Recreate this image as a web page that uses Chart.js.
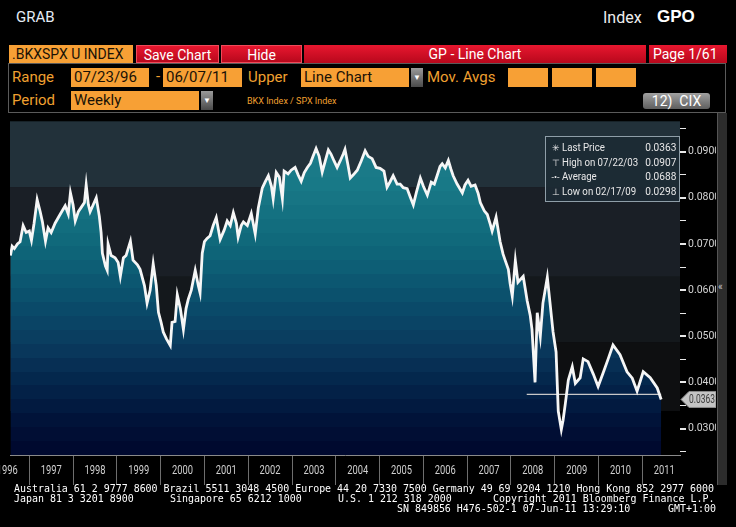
<!DOCTYPE html>
<html>
<head>
<meta charset="utf-8">
<script src="https://cdn.jsdelivr.net/npm/chart.js@4.4.1/dist/chart.umd.min.js"></script>
<style>
  html, body { margin: 0; padding: 0; background: #000; }
  body { width: 736px; height: 527px; position: relative; overflow: hidden;
         font-family: Roboto, "Liberation Sans", sans-serif; }
  .abs { position: absolute; white-space: pre; }
  .red { position: absolute; top: 45px; height: 18px; color: #fff; font-size: 14px; line-height: 18px;
         background: linear-gradient(#e8172f, #b8081c); box-sizing: border-box; }
  .org { position: absolute; background: #f7a035; color: #1a1206; font-size: 15px; line-height: 19px;
         height: 19px; padding-left: 3px; box-sizing: border-box; }
  .lbl { position: absolute; color: #f0a030; font-size: 15px; line-height: 19px; }
  .drop { position: absolute; width: 12px; height: 19px; background: linear-gradient(#9a9a9a, #4a4a4a);
          color: #fff; font-size: 8px; text-align: center; line-height: 19px; }
  .foot { position: absolute; color: #fff; font-family: "DejaVu Sans Mono", monospace; font-size: 9.95px;
          line-height: 10px; white-space: pre; }
  #legend { position: absolute; left: 545px; top: 136px; width: 135px; height: 66px; box-sizing: border-box;
            border: 1px solid #8f9ea8; background: rgba(28, 42, 52, 0.92); color: #e8e8e8; font-size: 11.5px; }
  #legend div { position: absolute; left: 3px; right: 3px; height: 14px; line-height: 14px; white-space: pre; }
  #legend span.t { display: inline-block; transform: scaleX(0.84); transform-origin: 0 50%; }
  #legend span.v { position: absolute; right: 0; transform: scaleX(0.88); transform-origin: 100% 50%; }
</style>
</head>
<body>
<div class="abs" style="left:16px;top:8px;color:#e4ecf6;font-size:15px;">GRAB</div>
<div class="abs" style="left:603px;top:8px;color:#eee;font-size:16px;">Index</div>
<div class="abs" style="left:657px;top:7px;color:#fff;font-size:17px;font-weight:bold;font-family:'Liberation Sans',Arial,sans-serif;">GPO</div>

<div class="org" style="left:9px;top:45px;width:124px;height:18px;line-height:18px;font-size:14px;">.BKXSPX U INDEX</div>
<div class="red" style="left:136px;width:83px;text-align:center;border:1px solid #f04a5a;">Save Chart</div>
<div class="red" style="left:221px;width:81px;text-align:center;border:1px solid #f04a5a;">Hide</div>
<div class="red" style="left:304px;width:342px;text-align:center;">GP - Line Chart</div>
<div class="red" style="left:649px;width:78px;padding-left:4px;">Page 1/61</div>

<div class="abs" style="left:8px;top:63px;width:718px;height:50px;border:1px solid #5a5a5a;box-sizing:border-box;"></div>
<div class="lbl" style="left:12px;top:68px;">Range</div>
<div class="org" style="left:71px;top:68px;width:78px;">07/23/96</div>
<div class="lbl" style="left:156px;top:67px;">-</div>
<div class="org" style="left:163px;top:68px;width:79px;">06/07/11</div>
<div class="lbl" style="left:248px;top:68px;">Upper</div>
<div class="org" style="left:301px;top:68px;width:108px;">Line Chart</div>
<div class="drop" style="left:411px;top:68px;">&#9660;</div>
<div class="lbl" style="left:427px;top:68px;">Mov. Avgs</div>
<div class="org" style="left:508px;top:68px;width:40px;"></div>
<div class="org" style="left:552px;top:68px;width:40px;"></div>
<div class="org" style="left:596px;top:68px;width:40px;"></div>

<div class="lbl" style="left:12px;top:91px;">Period</div>
<div class="org" style="left:71px;top:91px;width:128px;">Weekly</div>
<div class="drop" style="left:201px;top:91px;">&#9660;</div>
<div class="abs" style="left:247px;top:96px;color:#f0a030;font-size:9px;">BKX Index / SPX Index</div>
<div class="abs" style="left:643px;top:93px;width:67px;height:16px;border-radius:3px;background:linear-gradient(#a0a0a0,#5e5e5e);color:#fff;font-size:14px;line-height:16px;text-align:center;">12)&nbsp; CIX</div>

<canvas id="gp" class="abs" width="716" height="375" style="left:0;top:113px;"></canvas>
<div class="abs" style="left:717px;top:113px;width:10px;height:372px;background:#2c2c2c;border-left:1px solid #555;box-sizing:border-box;"></div>
<div class="abs" style="left:718px;top:281px;color:#ccc;font-size:10px;">&laquo;</div>

<div id="legend"></div>

<div class="foot" style="left:14px;top:484px;">Australia 61 2 9777 8600 Brazil 5511 3048 4500 Europe 44 20 7330 7500 Germany 49 69 9204 1210 Hong Kong 852 2977 6000</div>
<div class="foot" style="left:14px;top:494px;">Japan 81 3 3201 8900</div>
<div class="foot" style="left:170px;top:494px;">Singapore 65 6212 1000</div>
<div class="foot" style="left:338px;top:494px;">U.S. 1 212 318 2000</div>
<div class="foot" style="left:493px;top:494px;">Copyright 2011 Bloomberg Finance L.P.</div>
<div class="foot" style="left:397px;top:504px;">SN 849856 H476-502-1 07-Jun-11 13:29:10</div>
<div class="foot" style="left:668px;top:504px;">GMT+1:00</div>

<script>
// weekly closes (decimal years)
const weeks = [
  1996.57, 1996.61, 1996.66, 1996.73, 1996.79, 1996.86, 1996.93, 1997.00, 1997.05, 1997.11,
  1997.18, 1997.25, 1997.30, 1997.37, 1997.43, 1997.50, 1997.59, 1997.71, 1997.82, 1997.89,
  1997.94, 1998.00, 1998.05, 1998.12, 1998.19, 1998.26, 1998.30, 1998.35, 1998.39, 1998.46,
  1998.53, 1998.60, 1998.64, 1998.67, 1998.74, 1998.78, 1998.80, 1998.87, 1998.96, 1999.03,
  1999.08, 1999.15, 1999.21, 1999.31, 1999.37, 1999.47, 1999.53, 1999.63, 1999.69, 1999.76,
  1999.83, 1999.90, 1999.95, 2000.01, 2000.06, 2000.13, 2000.22, 2000.26, 2000.33, 2000.38,
  2000.45, 2000.52, 2000.58, 2000.63, 2000.70, 2000.79, 2000.86, 2000.90, 2000.95, 2001.00,
  2001.06, 2001.13, 2001.20, 2001.27, 2001.36, 2001.45, 2001.52, 2001.59, 2001.66, 2001.73,
  2001.77, 2001.84, 2001.89, 2001.98, 2002.07, 2002.16, 2002.23, 2002.32, 2002.39, 2002.46,
  2002.53, 2002.57, 2002.64, 2002.71, 2002.78, 2002.82, 2002.91, 2002.98, 2003.07, 2003.14,
  2003.21, 2003.28, 2003.35, 2003.42, 2003.48, 2003.55, 2003.62, 2003.69, 2003.76, 2003.83,
  2003.89, 2003.96, 2004.03, 2004.10, 2004.17, 2004.21, 2004.28, 2004.33, 2004.40, 2004.49,
  2004.58, 2004.67, 2004.74, 2004.83, 2004.92, 2005.01, 2005.10, 2005.17, 2005.24, 2005.31,
  2005.40, 2005.47, 2005.54, 2005.63, 2005.70, 2005.77, 2005.84, 2005.93, 2006.00, 2006.09,
  2006.18, 2006.25, 2006.32, 2006.38, 2006.43, 2006.50, 2006.57, 2006.63, 2006.68, 2006.77,
  2006.89, 2006.95, 2007.02, 2007.09, 2007.18, 2007.25, 2007.30, 2007.39, 2007.46, 2007.53,
  2007.57, 2007.66, 2007.75, 2007.82, 2007.87, 2007.94, 2007.98, 2008.03, 2008.10, 2008.16,
  2008.28, 2008.37, 2008.44, 2008.48, 2008.55, 2008.60, 2008.67, 2008.73, 2008.83, 2008.89,
  2008.96, 2009.03, 2009.08, 2009.15, 2009.19, 2009.24, 2009.31, 2009.40, 2009.47, 2009.58,
  2009.65, 2009.76, 2009.88, 2009.99, 2010.11, 2010.22, 2010.33, 2010.49, 2010.65, 2010.77,
  2010.88, 2011.02, 2011.18, 2011.34, 2011.43
];
const ratio = [
  0.0675, 0.0695, 0.0690, 0.0700, 0.0705, 0.0740, 0.0725, 0.0728, 0.0708, 0.0745,
  0.0796, 0.0770, 0.0748, 0.0706, 0.0735, 0.0725, 0.0745, 0.0765, 0.0783, 0.0765,
  0.0811, 0.0785, 0.0750, 0.0770, 0.0780, 0.0790, 0.0828, 0.0785, 0.0770, 0.0785,
  0.0800, 0.0760, 0.0725, 0.0680, 0.0652, 0.0643, 0.0700, 0.0675, 0.0670, 0.0660,
  0.0630, 0.0670, 0.0675, 0.0706, 0.0665, 0.0655, 0.0645, 0.0610, 0.0572, 0.0600,
  0.0657, 0.0610, 0.0552, 0.0530, 0.0509, 0.0495, 0.0480, 0.0530, 0.0532, 0.0590,
  0.0560, 0.0515, 0.0560, 0.0580, 0.0600, 0.0643, 0.0610, 0.0594, 0.0680, 0.0705,
  0.0712, 0.0718, 0.0740, 0.0757, 0.0710, 0.0730, 0.0750, 0.0740, 0.0768, 0.0745,
  0.0715, 0.0740, 0.0748, 0.0740, 0.0766, 0.0722, 0.0778, 0.0821, 0.0835, 0.0848,
  0.0825, 0.0798, 0.0855, 0.0845, 0.0798, 0.0858, 0.0852, 0.0860, 0.0866, 0.0850,
  0.0836, 0.0855, 0.0866, 0.0875, 0.0890, 0.0907, 0.0890, 0.0856, 0.0880, 0.0904,
  0.0895, 0.0880, 0.0866, 0.0880, 0.0895, 0.0905, 0.0870, 0.0843, 0.0850, 0.0860,
  0.0880, 0.0902, 0.0890, 0.0885, 0.0866, 0.0864, 0.0858, 0.0823, 0.0835, 0.0848,
  0.0830, 0.0830, 0.0822, 0.0820, 0.0802, 0.0785, 0.0812, 0.0843, 0.0825, 0.0806,
  0.0834, 0.0830, 0.0850, 0.0868, 0.0874, 0.0865, 0.0881, 0.0862, 0.0848, 0.0830,
  0.0811, 0.0828, 0.0838, 0.0825, 0.0828, 0.0810, 0.0790, 0.0772, 0.0764, 0.0742,
  0.0728, 0.0758, 0.0706, 0.0678, 0.0664, 0.0645, 0.0615, 0.0587, 0.0664, 0.0617,
  0.0630, 0.0577, 0.0545, 0.0515, 0.0400, 0.0551, 0.0500, 0.0572, 0.0628, 0.0574,
  0.0510, 0.0466, 0.0338, 0.0298, 0.0318, 0.0353, 0.0405, 0.0434, 0.0398, 0.0410,
  0.0451, 0.0445, 0.0418, 0.0391, 0.0422, 0.0451, 0.0481, 0.0460, 0.0423, 0.0409,
  0.0381, 0.0423, 0.0410, 0.0388, 0.0363
];

// horizontal line drawn on the chart
const trendX = [2008.36, 2011.43];
const trendY = [0.0374, 0.0374];

const yearTicks = [1997, 1998, 1999, 2000, 2001, 2002, 2003, 2004, 2005, 2006, 2007, 2008, 2009, 2010, 2011];
const yearLabels = [1996, 1997, 1998, 1999, 2000, 2001, 2002, 2003, 2004, 2005, 2006, 2007, 2008, 2009, 2010, 2011];
const yTickValues = [0.025, 0.030, 0.035, 0.040, 0.045, 0.050, 0.055, 0.060, 0.065, 0.070, 0.075, 0.080, 0.085, 0.090, 0.095];

const statLabels = ['Last Price', 'High on 07/22/03', 'Average', 'Low on 02/17/09'];
const statIcons = ['\u2733', '\u22A4', '-\u2022-', '\u22A5'];
const statValues = ['0.0363', '0.0907', '0.0688', '0.0298'];

const uiFont = 'Roboto, "Liberation Sans", sans-serif';

// legend box
const legend = document.getElementById('legend');
statLabels.forEach((lab, i) => {
  const row = document.createElement('div');
  row.style.top = (3 + i * 14.5) + 'px';
  row.innerHTML = '<span style="display:inline-block;width:13px;text-align:center;font-size:9px">' + statIcons[i] +
    '</span><span class="t">' + lab + '</span><span class="v">' + statValues[i] + '</span>';
  legend.appendChild(row);
});

function isMajor(v) {
  return Math.abs(Math.round(v * 100) - v * 100) < 1e-6;
}

// banded teal -> navy fill under the line
const fillAnchors = [
  [0.00, [30, 128, 142]], [0.20, [24, 120, 134]], [0.40, [14, 100, 120]],
  [0.55, [10, 76, 106]], [0.66, [10, 60, 95]], [0.78, [4, 38, 76]],
  [0.90, [1, 18, 56]], [1.00, [0, 6, 44]]
];
function fillColorAt(f) {
  for (let i = 1; i < fillAnchors.length; i++) {
    const [f1, c1] = fillAnchors[i];
    const [f0, c0] = fillAnchors[i - 1];
    if (f <= f1) {
      const t = (f - f0) / (f1 - f0);
      return 'rgb(' + c0.map((c, k) => Math.round(c + (c1[k] - c) * t)).join(',') + ')';
    }
  }
  return 'rgb(0,6,44)';
}
function bandFill(context) {
  const { ctx, chartArea } = context.chart;
  if (!chartArea) return null;
  const g = ctx.createLinearGradient(0, chartArea.top, 0, chartArea.bottom);
  const n = 24;
  for (let i = 0; i < n; i++) {
    const c = fillColorAt((i + 0.5) / n);
    g.addColorStop(i / n, c);
    g.addColorStop((i + 1) / n - 0.0001, c);
  }
  return g;
}

// dark banded background above the line
const bgBands = [
  [0.197, '#22313a'], [0.465, '#1a1f26'], [0.662, '#14181c'], [0.868, '#0e0f11'], [1.0, '#000000']
];
const bandsPlugin = {
  id: 'bands',
  beforeDraw(chart) {
    const { ctx, chartArea: a } = chart;
    let prev = 0;
    bgBands.forEach(([to, color]) => {
      ctx.fillStyle = color;
      ctx.fillRect(a.left, a.top + prev * (a.bottom - a.top), a.right - a.left, (to - prev) * (a.bottom - a.top) + 0.5);
      prev = to;
    });
  }
};

const yearLabelPlugin = {
  id: 'yearLabels',
  afterDraw(chart) {
    const { ctx, chartArea } = chart;
    const xs = chart.scales.x;
    ctx.save();
    ctx.fillStyle = '#cfcfcf';
    ctx.font = '13px ' + uiFont;
    ctx.textAlign = 'center';
    ctx.textBaseline = 'middle';
    yearLabels.forEach(yr => {
      ctx.fillText(String(yr), xs.getPixelForValue(yr + 0.5), chartArea.bottom + 16, 21);
    });
    ctx.restore();
  }
};

const lastTagPlugin = {
  id: 'lastTag',
  afterDraw(chart) {
    const { ctx, chartArea } = chart;
    const y = chart.scales.y.getPixelForValue(ratio[ratio.length - 1]);
    const x0 = chartArea.right + 1;
    ctx.save();
    ctx.beginPath();
    ctx.moveTo(x0, y);
    ctx.lineTo(x0 + 8, y - 8);
    ctx.lineTo(x0 + 35, y - 8);
    ctx.lineTo(x0 + 35, y + 8);
    ctx.lineTo(x0 + 8, y + 8);
    ctx.closePath();
    ctx.fillStyle = '#c4c4c4';
    ctx.fill();
    ctx.strokeStyle = '#8a8a8a';
    ctx.lineWidth = 1;
    ctx.stroke();
    ctx.fillStyle = '#3c3c3c';
    ctx.font = '12px ' + uiFont;
    ctx.textBaseline = 'middle';
    ctx.fillText(statValues[0], x0 + 8, y + 1, 26);
    ctx.restore();
  }
};

new Chart(document.getElementById('gp'), {
  type: 'line',
  data: {
    datasets: [
      {
        data: weeks.map((w, i) => ({ x: w, y: ratio[i] })),
        borderColor: '#f6f6f6',
        borderWidth: 2.8,
        pointRadius: 0,
        tension: 0,
        fill: 'start',
        backgroundColor: bandFill,
        order: 1
      },
      {
        data: trendX.map((w, i) => ({ x: w, y: trendY[i] })),
        borderColor: '#c8c8c8',
        borderWidth: 1.2,
        pointRadius: 0,
        fill: false,
        order: 2
      }
    ]
  },
  options: {
    responsive: false,
    animation: false,
    layout: { padding: { left: 10, top: 2, right: 0, bottom: 3 } },
    plugins: {
      legend: { display: false },
      tooltip: { enabled: false },
      filler: { drawTime: 'beforeDatasetsDraw' }
    },
    scales: {
      x: {
        type: 'linear',
        min: 1996.56,
        max: 2011.86,
        afterBuildTicks: s => { s.ticks = yearTicks.map(v => ({ value: v })); },
        afterFit: s => { s.height = 30; },
        grid: { drawOnChartArea: false, tickLength: 30, color: '#6e6e6e' },
        border: { color: '#8a8a8a' },
        ticks: { display: false }
      },
      y: {
        position: 'right',
        min: 0.02426,
        max: 0.0966,
        afterBuildTicks: s => { s.ticks = yTickValues.map(v => ({ value: v })); },
        afterFit: s => { s.width = 36; },
        grid: {
          drawOnChartArea: false,
          tickLength: 6,
          color: '#e8e8e8',
          lineWidth: c => (c.tick && isMajor(c.tick.value) ? 2 : 1)
        },
        border: { display: false },
        ticks: {
          color: '#d4d4d4',
          padding: 2,
          font: { family: uiFont, size: 10.5 },
          callback: v => (isMajor(v) ? v.toFixed(4) : '')
        }
      }
    }
  },
  plugins: [bandsPlugin, yearLabelPlugin, lastTagPlugin]
});
</script>
</body>
</html>
